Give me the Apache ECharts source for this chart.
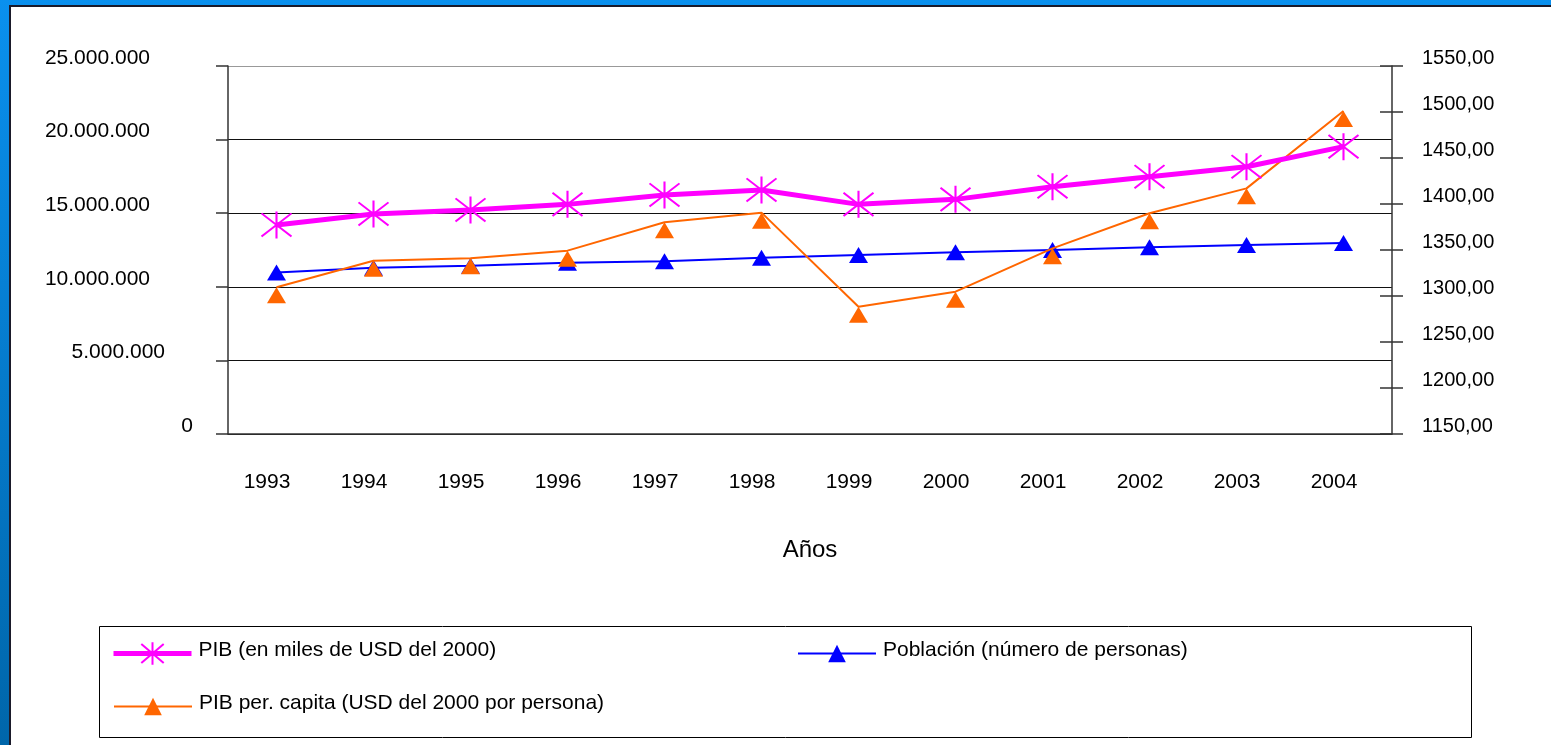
<!DOCTYPE html>
<html>
<head>
<meta charset="utf-8">
<title>PIB y Población 1993-2004</title>
<script src="https://cdn.jsdelivr.net/npm/echarts@6/dist/echarts.min.js"></script>
<style>
	html, body { margin: 0; padding: 0; overflow: hidden; }
	#frame {
		position: absolute; left: 0; top: 0; width: 1551px; height: 745px;
		background: linear-gradient(to bottom, #0a90ee, #0066aa);
	}
	#paper {
		position: absolute; left: 9px; top: 5px; right: 0; bottom: 0;
		background: #fff;
		border-left: 2px solid #1a1a2a;
		border-top: 2px solid #1a1a2a;
	}
	#custom_chart { position: absolute; left: 0; top: 0; width: 1551px; height: 745px; }
</style>
</head>
<body>
<div id="frame"><div id="paper"></div></div>
<div id="custom_chart"></div>
<script>
// datos
var years = ['1993', '1994', '1995', '1996', '1997', '1998', '1999', '2000', '2001', '2002', '2003', '2004'];
var pib = [14200000, 14950000, 15220000, 15600000, 16240000, 16580000, 15600000, 15940000, 16800000, 17480000, 18160000, 19520000];
var poblacion = [10970000, 11300000, 11430000, 11640000, 11730000, 11980000, 12160000, 12340000, 12500000, 12680000, 12840000, 12980000];
var pibPerCapita = [1309.5, 1338.4, 1341.0, 1349.3, 1380.1, 1390.6, 1288.4, 1304.7, 1351.8, 1389.9, 1417.0, 1501.0];

var seriesNames = [
	'PIB (en miles de USD del 2000)',
	'Población (número de personas)',
	'PIB per. capita (USD del 2000 por persona)'
];

window.onload = function () {
	"use strict";
	var chart = echarts.init(document.getElementById('custom_chart'));

	var asterisk = 'path://M15,0L15,28M0,2L30,26M0,26L30,2';
	var font = 'Liberation Sans, Arial, sans-serif';

	function miles(v) {
		return String(v).replace(/\B(?=(\d{3})+(?!\d))/g, '.');
	}

	// el texto de la leyenda va un poco por encima del icono
	var legendText = {
		fontSize: 21,
		fontFamily: font,
		color: '#000',
		rich: {
			t: { fontSize: 21, fontFamily: font, color: '#000', lineHeight: 21, padding: [0, 0, 6, 2] }
		}
	};

	function legendFor(name, left, top, itemHeight) {
		return {
			data: [name],
			left: left,
			top: top,
			padding: 0,
			itemWidth: 78,
			itemHeight: itemHeight,
			selectedMode: false,
			formatter: '{t|{name}}',
			textStyle: legendText
		};
	}

	var legendPib = legendFor(seriesNames[0], 111, 640, 28);
	legendPib.lineStyle = { width: 5 };

	var option = {
		animation: false,
		textStyle: { fontFamily: font, color: '#000' },
		grid: { left: 228, right: 159, top: 66, bottom: 311 },
		graphic: {
			elements: [{
				type: 'rect',
				left: 99,
				top: 626,
				silent: true,
				shape: { width: 1372, height: 111 },
				style: { fill: '#fff', stroke: '#000', lineWidth: 1 }
			}]
		},
		legend: [
			legendPib,
			legendFor(seriesNames[1], 797, 640, 22),
			legendFor(seriesNames[2], 113, 693, 22)
		],
		xAxis: {
			type: 'category',
			data: years,
			boundaryGap: true,
			name: 'Años',
			nameLocation: 'middle',
			nameGap: 104,
			nameTextStyle: { fontSize: 24, fontFamily: font, color: '#000', lineHeight: 24 },
			axisLine: { lineStyle: { color: '#333', width: 1.5 } },
			axisTick: { inside: false, length: 11, lineStyle: { color: '#333', width: 1.5 } },
			axisLabel: { fontSize: 21, color: '#000', margin: 38, lineHeight: 21, padding: [0, 19, 0, 0] },
			splitLine: { show: false }
		},
		yAxis: [{
			type: 'value',
			position: 'left',
			min: 0,
			max: 25000000,
			interval: 5000000,
			axisLine: { show: true, lineStyle: { color: '#333', width: 1.5 } },
			axisTick: { show: true, inside: false, length: 12, lineStyle: { color: '#333', width: 1.5 } },
			axisLabel: {
				fontSize: 21,
				color: '#000',
				margin: 35,
				align: 'right',
				verticalAlign: 'bottom',
				lineHeight: 16,
				formatter: function (v) {
					var key = v === 0 ? 'p0' : (v === 5000000 ? 'p1' : 'p2');
					return '{' + key + '|' + miles(v) + '}';
				},
				rich: {
					p0: { fontSize: 21, lineHeight: 16, padding: [0, 0, 0, 0] },
					p1: { fontSize: 21, lineHeight: 16, padding: [0, 28, 0, 0] },
					p2: { fontSize: 21, lineHeight: 16, padding: [0, 43, 0, 0] }
				}
			},
			splitLine: {
				show: true,
				lineStyle: { color: ['#111', '#111', '#111', '#111', '#111', '#999'], width: 1.2 }
			}
		}, {
			type: 'value',
			position: 'right',
			min: 1150,
			max: 1550,
			interval: 50,
			axisLine: { show: true, lineStyle: { color: '#333', width: 1.5 } },
			axisTick: { show: true, inside: false, length: 11, lineStyle: { color: '#333', width: 1.5 } },
			axisLabel: {
				fontSize: 20,
				color: '#000',
				margin: 30,
				verticalAlign: 'bottom',
				lineHeight: 16,
				formatter: function (v) {
					return v.toFixed(2).replace('.', ',');
				}
			},
			splitLine: { show: false }
		}, {
			// marcas interiores del eje derecho (cruzan la línea del eje)
			type: 'value',
			position: 'right',
			min: 1150,
			max: 1550,
			interval: 50,
			axisLine: { show: false },
			axisTick: { show: true, inside: true, length: 12, lineStyle: { color: '#333', width: 1.5 } },
			axisLabel: { show: false },
			splitLine: { show: false }
		}],
		series: [{
			name: seriesNames[0],
			type: 'line',
			yAxisIndex: 0,
			data: pib,
			symbol: asterisk,
			symbolSize: [30, 27],
			showAllSymbol: true,
			lineStyle: { color: '#ff00ff', width: 5 },
			itemStyle: { color: '#ff00ff', borderColor: '#ff00ff', borderWidth: 2 },
			z: 4
		}, {
			name: seriesNames[1],
			type: 'line',
			yAxisIndex: 0,
			data: poblacion,
			symbol: 'triangle',
			symbolSize: [19, 16],
			lineStyle: { color: '#0000ff', width: 2 },
			itemStyle: { color: '#0000ff' },
			z: 2
		}, {
			name: seriesNames[2],
			type: 'line',
			yAxisIndex: 1,
			data: pibPerCapita,
			symbol: 'triangle',
			symbolSize: [19, 16],
			symbolOffset: [0, 8],
			lineStyle: { color: '#ff6600', width: 2 },
			itemStyle: { color: '#ff6600' },
			z: 3
		}]
	};

	chart.setOption(option);
};
</script>
</body>
</html>
